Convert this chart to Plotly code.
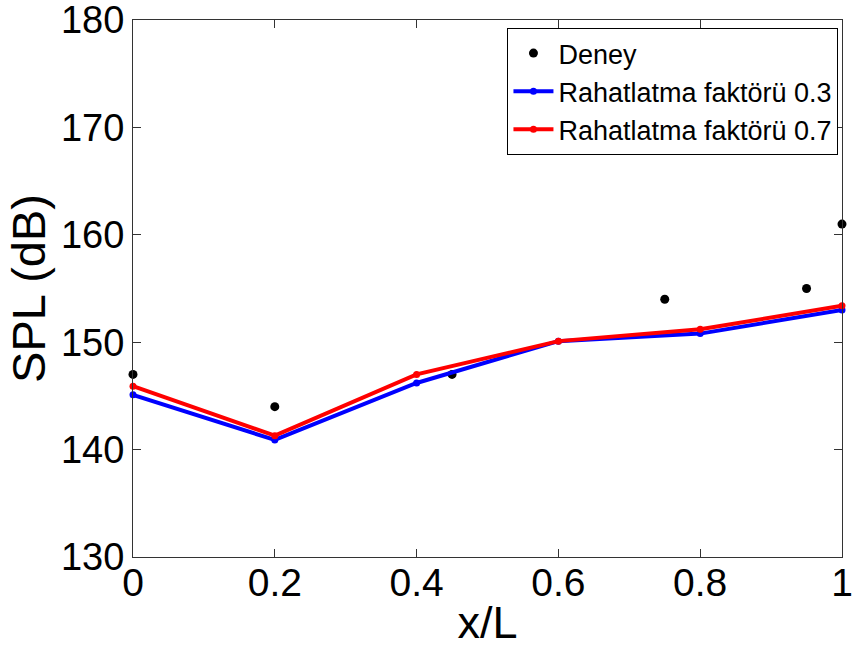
import plotly.graph_objects as go

# Measured sound pressure level along the duct
x_deney = [0.0, 0.2, 0.45, 0.75, 0.95, 1.0]
spl_deney = [147.0, 144.0, 147.0, 154.0, 155.0, 161.0]

# Simulation results for two relaxation factors
x_sim = [0.0, 0.2, 0.4, 0.6, 0.8, 1.0]
spl_r03 = [145.1, 140.9, 146.2, 150.1, 150.8, 153.0]
spl_r07 = [145.9, 141.3, 147.0, 150.1, 151.2, 153.4]

x_ticks = [0, 0.2, 0.4, 0.6, 0.8, 1]
x_tick_text = ["0", "0.2", "0.4", "0.6", "0.8", "1"]
y_ticks = [130, 140, 150, 160, 170, 180]

font_family = "Liberation Sans, Arial, sans-serif"

fig = go.Figure()
fig.add_trace(go.Scatter(
    x=x_deney, y=spl_deney, mode="markers", name="Deney",
    marker=dict(color="black", size=9, symbol="circle"),
    cliponaxis=False,
))
fig.add_trace(go.Scatter(
    x=x_sim, y=spl_r03, mode="lines+markers", name="Rahatlatma faktörü 0.3",
    line=dict(color="#0000ff", width=4),
    marker=dict(color="#0000ff", size=7, symbol="circle"),
    cliponaxis=False,
))
fig.add_trace(go.Scatter(
    x=x_sim, y=spl_r07, mode="lines+markers", name="Rahatlatma faktörü 0.7",
    line=dict(color="#ff0000", width=4),
    marker=dict(color="#ff0000", size=7, symbol="circle"),
    cliponaxis=False,
))

axis_common = dict(
    showgrid=False, zeroline=False, automargin=False,
    showline=True, linecolor="#333333", linewidth=1, mirror="ticks",
    ticks="inside", ticklen=8, tickcolor="#333333",
    ticklabeloverflow="allow",
)

fig.update_xaxes(
    range=[0, 1], tickvals=x_ticks, ticktext=x_tick_text,
    tickfont=dict(family=font_family, size=39, color="black"),
    ticklabelstandoff=-9,
    title=dict(text="x/L", font=dict(family=font_family, size=45, color="black"), standoff=20),
    **axis_common,
)
fig.update_yaxes(
    range=[130, 180], tickvals=y_ticks,
    tickfont=dict(family=font_family, size=38, color="black"),
    title=dict(text="SPL (dB)", font=dict(family=font_family, size=47, color="black"), standoff=0),
    **axis_common,
)

fig.update_layout(
    width=853, height=648,
    margin=dict(l=133, r=11, t=20, b=91),
    paper_bgcolor="white", plot_bgcolor="white",
    showlegend=True,
    legend=dict(
        x=0.995, y=0.985, xanchor="right", yanchor="top",
        bgcolor="white", bordercolor="black", borderwidth=1,
        font=dict(family=font_family, size=27, color="black"),
        itemwidth=40, tracegroupgap=0,
    ),
)

fig.write_html("out.html")
